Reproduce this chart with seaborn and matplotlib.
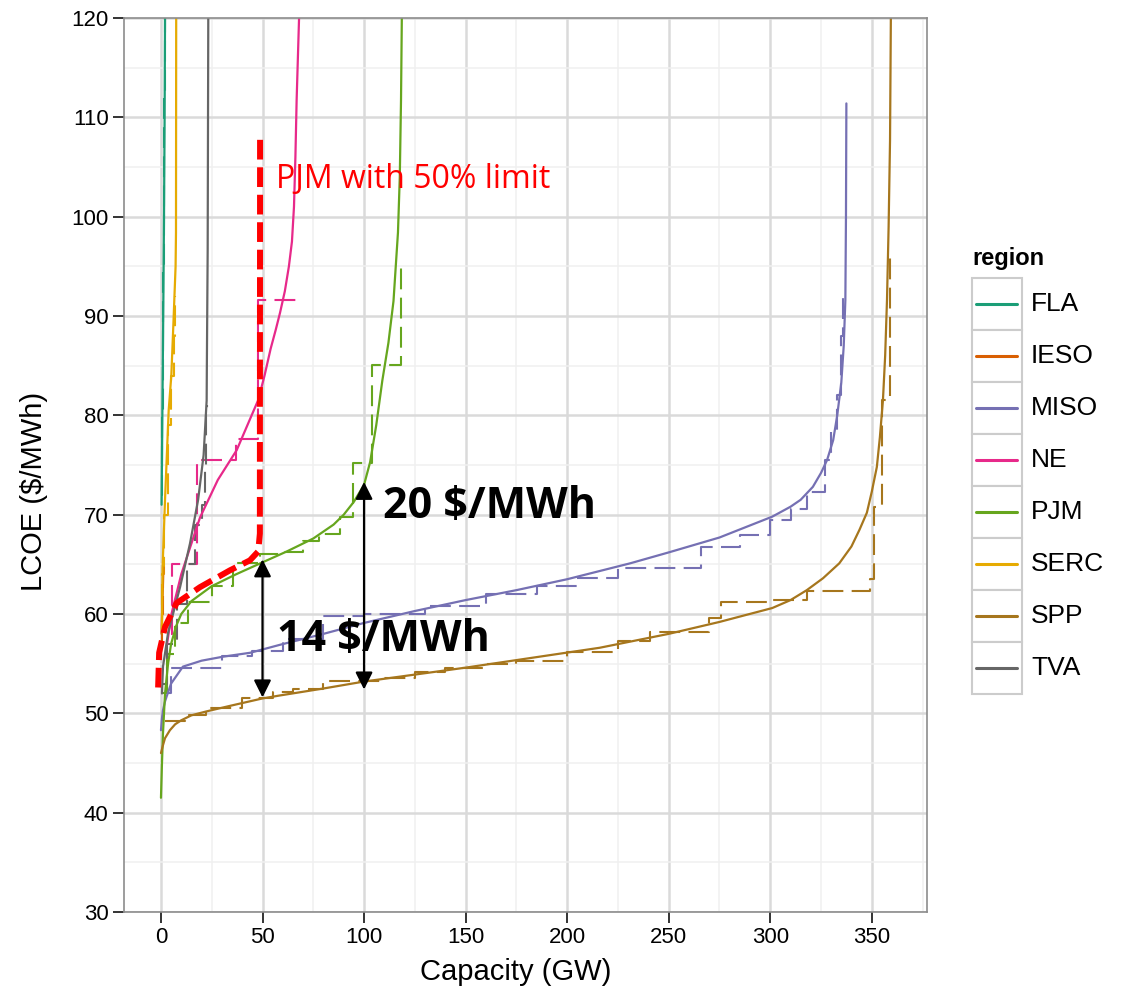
import numpy as np
import pandas as pd
import matplotlib.pyplot as plt
import seaborn as sns
from matplotlib.lines import Line2D
from matplotlib.patches import Rectangle

# Supply curves: smooth fit (solid) and step data (dashed)
regions = ['FLA', 'IESO', 'MISO', 'NE', 'PJM', 'SERC', 'SPP', 'TVA']
colors = ['#1B9E77', '#D95F02', '#7570B3', '#E7298A', '#66A61E', '#E6AB02', '#A6761D', '#666666']

fla_fit_x = [0.3, 0.6, 0.9, 1.2, 1.5, 1.8, 2.0]
fla_fit_y = [71, 78, 85, 92, 100, 110, 120]
fla_step_x = [0.2, 0.5, 0.8, 1.1, 1.4, 1.7, 1.9]
fla_step_y = [72, 80, 88, 95, 103, 112, 120]

ieso_fit_x = [0.3, 0.6, 0.9, 1.2]
ieso_fit_y = [58, 60.5, 62.5, 64.7]
ieso_step_x = [0.2, 0.5, 0.8, 1.0]
ieso_step_y = [57, 60, 63, 65]

miso_fit_x = [0, 0.5, 1, 2, 2.8, 5, 10.8, 20, 30.5, 44, 58.6, 80, 100, 125, 150, 175, 200, 231, 250,
              275, 301, 310, 315, 321, 325, 328, 331, 333, 335, 336.2, 337, 337.3, 337.5]
miso_fit_y = [48.3, 49.5, 50.3, 51.2, 51.7, 53, 54.7, 55.3, 55.7, 56.1, 56.9, 58, 59.1, 60.3, 61.4,
              62.4, 63.5, 65.1, 66.2, 67.7, 69.8, 70.8, 71.5, 72.8, 74.2, 75.5, 77.5, 80, 83.3, 87,
              91.6, 100, 111.4]
miso_step_x = [3, 5, 30, 45, 60, 80, 100, 130, 160, 185, 205, 225, 266, 285, 300, 310, 318, 327, 330, 333, 335, 336]
miso_step_y = [52, 54.6, 55.8, 56.3, 57.5, 59.8, 60, 60.8, 62.0, 62.8, 63.6, 64.6, 66.7, 68, 69.5, 70.6, 72.3,
               75.5, 78.5, 82, 88, 92]

ne_fit_x = [3, 5.3, 10, 19.2, 28, 37.3, 47.8, 51, 54, 56.5, 58.6, 61, 63, 64.5, 65.5, 66.2, 66.8, 68]
ne_fit_y = [57, 60.1, 64, 69.7, 73.5, 76.5, 81.5, 84, 86.7, 88.6, 90.3, 92.5, 95, 97.5, 101, 106, 111.7, 120]
ne_step_x = [5, 5.5, 17.6, 37, 48, 68]
ne_step_y = [58, 65, 75.5, 77.6, 91.6, 91.6]

pjm_fit_x = [0, 0.5, 1, 2, 3.5, 5, 7.5, 10, 15, 25, 37, 50, 62, 75, 85, 90, 95, 100, 103, 106, 109,
             112, 114.5, 116.7, 117.6, 118.2, 118.6]
pjm_fit_y = [41.5, 45, 48, 52, 55, 57, 58.8, 60, 61.3, 62.8, 64, 65.2, 66.3, 67.6, 69.0, 70.0, 71.3,
             73.0, 75.3, 79, 83.5, 87.3, 91.5, 98.4, 104, 111.7, 120]
pjm_step_x = [1, 3, 6.7, 13.3, 25, 35.5, 48.8, 60, 70, 78, 88, 94.6, 104, 118]
pjm_step_y = [52, 56, 59.1, 61.2, 62.8, 65.1, 66, 66.2, 67.3, 68.1, 69.8, 75.2, 85.1, 95.4]

serc_fit_x = [0.5, 0.8, 2.0, 3.8, 5.1, 6.2, 7.2, 7.4, 7.5]
serc_fit_y = [58.5, 64.7, 71.5, 80.5, 84, 89.6, 95, 98.4, 120]
serc_step_x = [0.3, 0.6, 1.6, 3.5, 4.8, 6.3, 7.0]
serc_step_y = [58, 64, 70, 79, 84, 88, 92]

spp_fit_x = [0, 1, 2, 4.4, 7, 10, 15, 22.5, 35, 50, 58.6, 80, 100, 150, 216, 250, 275, 301, 310, 318,
             326, 334, 340, 344, 347.6, 350, 352.5, 354, 355.5, 356.6, 357.5, 358.3, 359, 359.4]
spp_fit_y = [46, 46.8, 47.5, 48.3, 48.9, 49.3, 49.8, 50.2, 50.8, 51.5, 51.8, 52.5, 53.2, 54.6, 56.6,
             58.0, 59.2, 60.6, 61.4, 62.4, 63.6, 65.1, 66.8, 68.5, 70.2, 72.3, 74.8, 77.8, 81.5, 86,
             91.6, 99, 107.7, 120]
spp_step_x = [2, 12, 22, 40, 55, 65, 80, 110, 125, 140, 160, 175, 200, 225, 241, 270, 276, 300, 318,
              349, 351, 355, 359]
spp_step_y = [49.2, 49.8, 50.5, 51.5, 52.1, 52.5, 53.3, 53.6, 54.2, 54.6, 55.0, 55.3, 56.2, 57.3, 58.2,
              59.6, 61.2, 61.4, 62.3, 63.5, 70.8, 81.5, 96]

tva_fit_x = [0.5, 1, 3.5, 9.4, 14.3, 18.3, 21, 22.5, 22.6, 23, 23.3]
tva_fit_y = [52, 54.7, 58.1, 62.7, 67.1, 71.5, 76, 81.5, 85, 96.6, 120]
tva_step_x = [1, 3, 8, 13, 17, 20, 21.5, 22, 22.5]
tva_step_y = [53, 57, 61, 65, 69, 71, 75, 80.5, 81]

# PJM with 50% limit
pjm50_x = [-1.4, -0.9, 2, 7.7, 19.2, 34, 43.8, 47.9, 48.7, 48.8]
pjm50_y = [52.6, 56.1, 58.7, 61.1, 62.7, 64.4, 65.4, 66.3, 68.1, 107.9]

fit = {'FLA': (fla_fit_x, fla_fit_y), 'IESO': (ieso_fit_x, ieso_fit_y),
       'MISO': (miso_fit_x, miso_fit_y), 'NE': (ne_fit_x, ne_fit_y),
       'PJM': (pjm_fit_x, pjm_fit_y), 'SERC': (serc_fit_x, serc_fit_y),
       'SPP': (spp_fit_x, spp_fit_y), 'TVA': (tva_fit_x, tva_fit_y)}
step = {'FLA': (fla_step_x, fla_step_y), 'IESO': (ieso_step_x, ieso_step_y),
        'MISO': (miso_step_x, miso_step_y), 'NE': (ne_step_x, ne_step_y),
        'PJM': (pjm_step_x, pjm_step_y), 'SERC': (serc_step_x, serc_step_y),
        'SPP': (spp_step_x, spp_step_y), 'TVA': (tva_step_x, tva_step_y)}

fit_df = pd.concat([pd.DataFrame({'region': r, 'capacity': fit[r][0], 'lcoe': fit[r][1]}) for r in regions])
step_df = pd.concat([pd.DataFrame({'region': r, 'capacity': step[r][0], 'lcoe': step[r][1]}) for r in regions])
pjm50_df = pd.DataFrame({'capacity': pjm50_x, 'lcoe': pjm50_y})
palette = dict(zip(regions, colors))

sns.set_theme(style='white')
plt.rcParams['font.family'] = ['Liberation Sans', 'DejaVu Sans']
plt.rcParams['text.color'] = 'black'
plt.rcParams['axes.labelcolor'] = 'black'

fig = plt.figure(figsize=(11.25, 9.97), dpi=100)
ax = fig.add_axes([124 / 1125, 1 - 912 / 997, 803 / 1125, 894 / 997])

# grid like ggplot theme_bw
ax.set_xticks(np.arange(0, 351, 50))
ax.set_xticks(np.arange(25, 376, 50), minor=True)
ax.set_yticks(np.arange(30, 121, 10))
ax.set_yticks(np.arange(35, 116, 10), minor=True)
ax.grid(which='major', color='#DADADA', lw=1.8)
ax.grid(which='minor', color='#F0F0F0', lw=1.1)
ax.set_axisbelow(True)
for s in ax.spines.values():
    s.set_color('#8C8C8C')
    s.set_linewidth(1.2)

sns.lineplot(data=step_df, x='capacity', y='lcoe', hue='region', palette=palette,
             estimator=None, sort=False, legend=False, lw=1.5,
             linestyle=(0, (10, 4)), drawstyle='steps-post', ax=ax)
sns.lineplot(data=fit_df, x='capacity', y='lcoe', hue='region', palette=palette,
             estimator=None, sort=False, legend=False, lw=1.6, ax=ax)
sns.lineplot(data=pjm50_df, x='capacity', y='lcoe', color='#FF0000', estimator=None,
             sort=False, lw=4.3, linestyle=(0, (3.3, 1.3)), ax=ax)

ax.set_xlim(-18.2, 377.2)
ax.set_ylim(30, 120)

ax.tick_params(axis='both', which='major', length=8, width=1.4, color='#333333',
               labelsize=16, labelcolor='black', pad=3, bottom=True, left=True)
ax.tick_params(which='minor', length=0)
ax.set_xlabel('Capacity (GW)', fontsize=21, color='black')
ax.set_ylabel('LCOE ($/MWh)', fontsize=21, color='black')
ax.xaxis.set_label_coords(0.488, -0.052)
ax.yaxis.set_label_coords(-0.095, 0.47)

# annotations
ax.text(56.6, 103.7, 'PJM with 50% limit', color='#FF0000', fontsize=23,
        family=['Open Sans', 'DejaVu Sans'], va='center', ha='left')
arrow = dict(arrowstyle='<|-|>', color='black', lw=1.6, mutation_scale=26, shrinkA=0, shrinkB=0)
ax.annotate('', xy=(50, 65.5), xytext=(50, 51.6), arrowprops=arrow)
ax.annotate('', xy=(100, 73.3), xytext=(100, 52.4), arrowprops=arrow)
ax.text(57, 57.4, '14 $/MWh', fontsize=31, fontweight='bold', color='black',
        family=['Open Sans', 'DejaVu Sans'], va='center', ha='left')
ax.text(109.3, 70.8, '20 $/MWh', fontsize=31, fontweight='bold', color='black',
        family=['Open Sans', 'DejaVu Sans'], va='center', ha='left')

# legend drawn like ggplot keys
W, H = 1125, 997
fig.text(972 / W, 1 - 265 / H, 'region', fontsize=17, fontweight='bold', va='baseline', ha='left')
for i, (r, c) in enumerate(zip(regions, colors)):
    top = 278 + 52 * i
    fig.add_artist(Rectangle((972 / W, 1 - (top + 52) / H), 50 / W, 52 / H,
                             transform=fig.transFigure, facecolor='white',
                             edgecolor='#CCCCCC', lw=1.5))
    yc = 1 - (top + 26) / H
    fig.add_artist(Line2D([976 / W, 1017 / W], [yc, yc], color=c, lw=2.2,
                          transform=fig.transFigure))
    fig.text(1031 / W, yc, r, fontsize=19, va='center', ha='left')

fig.savefig('out.png', dpi=100)
